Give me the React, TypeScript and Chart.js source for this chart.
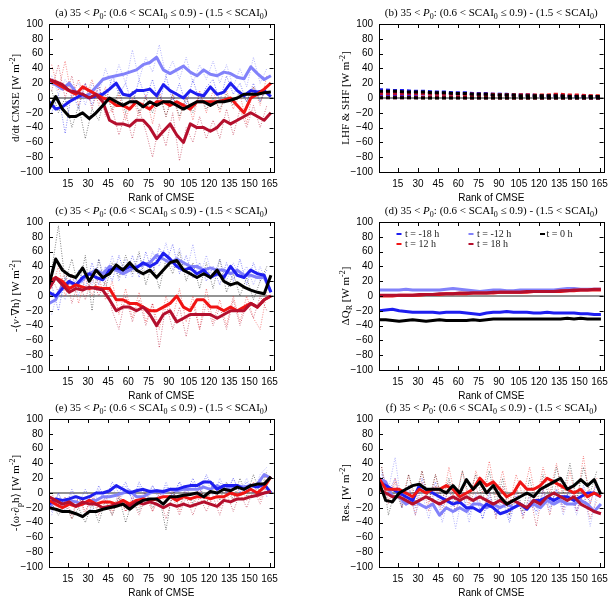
import React, { useEffect, useRef } from "react";
import { Chart, registerables } from "chart.js";
Chart.register(...registerables);

// ---------- data ----------
const RANKS = [1, 6, 11, 16, 21, 26, 31, 36, 41, 46, 51, 56, 61, 66, 71, 76, 81, 86, 91, 96, 101, 106, 111, 116, 121, 126, 131, 136, 141, 146, 151, 156, 161, 166];
const RAW_RANKS = [3, 8, 13, 18, 23, 28, 33, 38, 43, 48, 53, 58, 63, 68, 73, 78, 83, 88, 93, 98, 103, 108, 113, 118, 123, 128, 133, 138, 143, 148, 153, 158, 163];
const X_TICKS = [15, 30, 45, 60, 75, 90, 105, 120, 135, 150, 165];
const Y_TICKS = [-100, -80, -60, -40, -20, 0, 20, 40, 60, 80, 100];
const LEGEND_LABELS = ["t = -18 h", "t = -12 h", "t = 0 h", "t = 12 h", "t = 18 h"];

// (a) d/dt CMSE  (thick = running mean, raw = dotted)
const A_M18 = [-5, -15, -12, -5, 0, 5, 0, 3, 5, 12, 20, 5, 3, 10, 10, 12, 3, 18, 10, 5, 0, 10, 5, 3, 15, 5, 8, 20, 10, 3, 10, 8, 10, 2];
const A_M12 = [22, 18, 12, 20, 8, 2, 5, 15, 25, 28, 30, 32, 35, 38, 45, 48, 55, 38, 33, 38, 43, 35, 30, 38, 32, 30, 35, 33, 28, 26, 42, 33, 25, 30];
const A_0 = [-15, 2, -15, -25, -25, -20, -28, -20, -10, 0, -5, -10, -5, -5, -12, -5, -10, -5, -5, -10, -15, -10, -5, -5, -10, -5, -5, -3, 0, 5, 5, 5, 7, 8];
const A_12 = [25, 20, 15, 10, 5, 15, 10, 5, 0, -3, -10, -10, -15, -5, -10, -15, -5, -5, -10, -5, -10, -15, -5, -5, -5, -5, -3, 0, -10, -20, 0, 5, 12, 20];
const A_18 = [25, 22, 18, 10, 8, 5, 0, 5, -5, -30, -35, -35, -38, -30, -30, -40, -55, -45, -35, -50, -60, -35, -40, -40, -45, -40, -30, -35, -30, -25, -20, -25, -30, -20];
const A_M18_RAW = [-20, 5, -48, 10, -15, 20, -10, 15, -10, 30, 5, 20, -10, 25, 0, 25, -10, 30, -5, 20, -10, 25, -5, 15, 25, -5, 30, 5, 20, -5, 20, -5, 15];
const A_M12_RAW = [30, 5, 25, 10, 20, -10, 20, 5, 40, 15, 45, 20, 65, 25, 55, 35, 72, 30, 50, 25, 55, 20, 45, 25, 50, 20, 45, 15, 40, 15, 55, 20, 40];
const A_0_RAW = [10, -20, 0, -40, -10, -55, -15, -30, 5, -15, 10, -20, 10, -20, 0, -20, 5, -25, 5, -25, 0, -20, 5, -15, 0, -15, 5, -10, 10, -5, 15, -5, 15];
const A_12_RAW = [45, 10, 50, 0, 25, 0, 25, -10, 15, -20, 5, -30, 0, -25, 5, -35, 10, -25, 5, -30, 5, -30, 10, -20, 10, -20, 10, -15, 5, -35, 15, -10, 30];
const A_18_RAW = [10, 45, 0, 30, -10, 20, -15, 20, -25, -15, -50, -20, -55, -15, -45, -80, -35, -65, -20, -85, -40, -60, -25, -55, -30, -55, -15, -50, -15, -40, -10, -40, -10];

// (b) LHF & SHF
const B_LHF_M18 = [11, 11, 10, 10, 10, 9, 9, 9, 8, 8, 8, 7, 7, 7, 6, 6, 6, 5, 5, 5, 4, 4, 4, 4, 3, 3, 3, 3, 3, 2, 2, 2, 2, 2];
const B_LHF_M12 = [10, 10, 10, 9, 9, 9, 8, 8, 8, 7, 7, 7, 6, 6, 6, 5, 5, 5, 5, 4, 4, 4, 4, 3, 3, 3, 3, 3, 3, 2, 2, 2, 2, 2];
const B_LHF_0 = [9, 9, 9, 9, 8, 8, 8, 8, 7, 7, 7, 6, 6, 6, 5, 5, 5, 4, 4, 4, 4, 3, 3, 3, 3, 3, 3, 3, 2, 2, 2, 2, 2, 2];
const B_LHF_12 = [7, 7, 7, 7, 7, 7, 7, 6, 6, 6, 6, 6, 6, 5, 5, 5, 5, 5, 4, 4, 4, 4, 4, 4, 4, 4, 5, 5, 4, 4, 4, 3, 3, 3];
const B_LHF_18 = [6, 6, 6, 6, 6, 6, 6, 6, 5, 5, 5, 5, 5, 5, 5, 4, 4, 4, 4, 4, 4, 4, 4, 3, 3, 3, 4, 4, 3, 3, 3, 3, 2, 2];
const B_SHF_M18 = [2, 2, 2, 2, 2, 2, 1.5, 1.5, 1.5, 1.5, 1.5, 1, 1, 1, 1, 1, 1, 1, 1, 1, 1, 1, 1, 1, 1, 1, 1, 1, 1, 1, 0.5, 0.5, 0.5, 0.5];
const B_SHF_M12 = [1.5, 1.5, 1.5, 1.5, 1.5, 1, 1, 1, 1, 1, 1, 1, 1, 1, 1, 1, 1, 1, 1, 1, 1, 1, 1, 1, 1, 1, 1, 1, 1, 0.5, 0.5, 0.5, 0.5, 0.5];
const B_SHF_0 = [0.5, 0.5, 0.5, 0.5, 0.5, 0.5, 0, 0, 0, 0, 0, 0, 0, 0, 0, 0, 0, 0, 0, 0, 0, 0, 0, 0, 0, 0, 0, 0, 0, 0, 0, 0, 0, 0];
const B_SHF_12 = [1, 1, 1, 1, 1, 1, 1, 1, 1, 1, 1, 1, 1, 1, 1, 1, 1, 1, 0.5, 0.5, 0.5, 0.5, 0.5, 0.5, 0.5, 0.5, 0.5, 0.5, 0.5, 0.5, 0.5, 0.5, 0.5, 0.5];
const B_SHF_18 = [0.5, 0.5, 0.5, 0.5, 0.5, 0.5, 0.5, 0.5, 0.5, 0.5, 0.5, 0.5, 0.5, 0, 0, 0, 0, 0, 0, 0, 0, 0, 0, 0, 0, 0, 0, 0, 0, 0, 0, 0, 0, 0];

// (c) -<v.grad h>
const C_M18 = [5, 0, 10, 20, 15, 25, 30, 25, 22, 35, 38, 35, 40, 38, 45, 40, 45, 58, 50, 40, 35, 38, 30, 35, 25, 30, 25, 40, 28, 25, 35, 30, 28, 5];
const C_M12 = [-10, -5, 15, 18, 15, 22, 30, 35, 30, 40, 35, 30, 35, 40, 42, 45, 55, 50, 45, 50, 45, 40, 40, 35, 38, 35, 35, 30, 35, 28, 28, 25, 25, 5];
const C_0 = [15, 50, 35, 28, 25, 38, 20, 35, 25, 30, 42, 35, 45, 35, 30, 35, 25, 35, 45, 48, 35, 30, 25, 30, 25, 35, 20, 15, 18, 12, 8, 5, 3, 28];
const C_12 = [20, 25, 20, 10, 15, 12, 10, 12, 10, 10, -5, -5, -10, -10, -15, -20, -20, -15, -10, 0, -15, -20, -5, -5, -15, -15, -20, -15, -20, -15, -10, -15, -5, 0];
const C_18 = [10, 25, 15, 5, 10, 8, 12, 10, 8, -5, -20, -15, -15, -20, -15, -25, -40, -25, -20, -35, -30, -25, -25, -25, -25, -30, -25, -20, -20, -20, -10, -15, -5, 0];
const C_M18_RAW = [15, -20, 25, 5, 35, 10, 45, 15, 40, 20, 55, 25, 55, 25, 60, 30, 65, 45, 70, 30, 55, 25, 45, 20, 40, 15, 45, 20, 50, 15, 45, 20, 35];
const C_M12_RAW = [-25, 10, -5, 30, 0, 35, 15, 50, 20, 55, 20, 50, 25, 55, 30, 60, 40, 72, 35, 65, 30, 70, 25, 55, 25, 50, 20, 45, 25, 40, 15, 40, 15];
const C_0_RAW = [35, 95, 20, 50, 10, 55, -20, 50, 10, 45, 25, 55, 30, 60, 15, 45, 10, 50, 30, 60, 20, 45, 10, 45, 10, 50, 5, 30, 0, 25, -5, 20, 40];
const C_12_RAW = [10, 40, 0, 30, -10, 25, 0, 25, -5, 20, -25, 10, -30, 5, -35, -10, -45, 0, -30, 10, -35, 0, -45, 10, -35, -5, -40, 0, -35, 0, -30, -45, 5];
const C_18_RAW = [25, 5, 35, -10, 20, -5, 25, 0, 20, -20, -45, 0, -35, -5, -40, -10, -70, -10, -45, -15, -55, -10, -45, -10, -40, -15, -45, -5, -40, -10, -30, 0, -20];

// (d) Delta Q_R
const D_M18 = [-20, -19, -18, -20, -21, -22, -22, -22, -22, -23, -22, -22, -22, -23, -24, -25, -23, -22, -22, -21, -22, -22, -22, -23, -23, -22, -23, -23, -23, -23, -24, -24, -25, -25];
const D_M12 = [8, 8, 8, 8, 9, 8, 8, 8, 8, 8, 9, 10, 9, 8, 7, 6, 7, 8, 8, 7, 7, 8, 8, 8, 8, 8, 8, 9, 10, 10, 9, 9, 9, 9];
const D_0 = [-32, -32, -33, -34, -33, -32, -33, -34, -33, -32, -33, -33, -33, -33, -32, -33, -32, -31, -31, -31, -31, -31, -31, -31, -31, -31, -31, -31, -30, -31, -30, -31, -31, -31];
const D_12 = [0, 0, 0, 1, 1, 1, 1, 2, 2, 2, 3, 3, 3, 3, 4, 4, 4, 4, 5, 5, 5, 5, 5, 6, 6, 6, 6, 6, 7, 7, 8, 8, 8, 8];
const D_18 = [1, 1, 1, 1, 1, 1, 2, 2, 2, 3, 3, 3, 4, 4, 4, 4, 4, 5, 5, 5, 5, 5, 6, 6, 6, 6, 6, 7, 7, 8, 8, 8, 9, 9];

// (e) -<omega dp h>
const E_M18 = [-15, -8, -10, -8, -5, -8, -5, 0, 0, 3, 10, 5, 0, 3, 5, 2, 3, 2, 5, 5, 8, 10, 10, 15, 15, 5, 10, 10, 10, 5, 10, 8, 12, 0];
const E_M12 = [-20, -10, -15, -10, -12, -15, -10, -10, -5, -5, -3, 0, 3, -5, -5, 0, 3, 0, 5, 3, 5, 5, 5, 8, 5, 10, 5, 8, 10, 8, 10, 12, 25, 20];
const E_0 = [-20, -22, -25, -25, -28, -32, -25, -25, -22, -20, -18, -15, -22, -15, -10, -8, -8, -15, -5, -5, -3, -2, 0, -5, 2, 0, 5, 3, 8, 5, 10, 12, 12, 22];
const E_12 = [-10, -15, -20, -15, -18, -15, -10, -15, -12, -12, -15, -10, -15, -10, -8, -10, -8, -5, -5, -10, -5, -8, -5, -5, -8, -5, -5, 0, -3, 0, 5, 0, 8, 22];
const E_18 = [-5, -10, -15, -12, -18, -12, -15, -15, -20, -18, -15, -15, -18, -12, -15, -12, -15, -20, -15, -18, -15, -18, -15, -12, -15, -18, -10, -12, -8, -8, -5, -3, 0, 2];
const E_M18_RAW = [-25, 0, -20, 5, -15, 5, -15, 10, -10, 15, 0, 15, -10, 15, -5, 10, -5, 10, -5, 15, 0, 20, 0, 25, 5, 15, 0, 20, 0, 15, 0, 20, -5];
const E_M12_RAW = [-30, 0, -25, 0, -20, -5, -25, 5, -15, 10, -15, 10, -10, 10, -15, 10, -10, 15, -5, 15, -5, 15, -5, 20, -5, 20, 0, 20, 0, 20, 0, 25, 35];
const E_0_RAW = [-15, -30, -15, -35, -20, -40, -15, -40, -10, -30, -5, -40, -10, -25, 0, -20, -5, -50, 5, -20, 10, -15, 10, -15, 15, -10, 15, -10, 20, -5, 25, 0, 30];
const E_12_RAW = [-5, -25, -10, -35, -5, -30, 0, -25, -5, -25, 0, -25, -5, -20, 5, -25, 0, -15, 5, -25, 5, -20, 5, -15, 10, -20, 5, -10, 10, -10, 15, -10, 25];
const E_18_RAW = [0, -20, -5, -30, -5, -25, -5, -30, -10, -30, -5, -25, -10, -30, -5, -25, -5, -35, -5, -30, -5, -30, -5, -25, -5, -30, 0, -25, 0, -20, 5, -15, 10];

// (f) Res.
const F_M18 = [15, 10, 5, 0, -5, -10, 10, 5, 0, -5, -10, -15, -12, -20, -20, -25, -15, -20, -28, -25, -20, -15, -22, -10, -10, -5, -10, -5, -5, -10, -5, 0, 0, -5];
const F_M12 = [20, 15, -5, -5, -15, -10, -15, -20, -15, -30, -20, -25, -20, -25, -15, -15, -20, -15, -20, -15, -20, -15, -20, -15, -20, -10, -15, -10, -15, -15, -10, -15, -25, -15];
const F_0 = [15, -10, -12, 0, 5, 10, 12, 5, 5, 5, 0, 10, 0, 18, 5, 15, 0, 10, -5, -15, -10, -5, 0, -5, 5, 10, 15, 20, 5, 10, 18, 10, 18, -2];
const F_12 = [20, 5, 5, 5, 0, -5, 5, 0, 5, 5, 10, 5, -5, 0, 5, 20, 10, 15, 5, -5, 0, 15, 5, 5, 10, 20, 15, 10, 5, 0, 5, -5, 0, -5];
const F_18 = [5, 0, -5, -5, -10, -15, -10, -5, -10, -15, -10, -5, -10, -5, -10, -5, -10, -15, -10, -15, -10, -15, -20, -10, -15, -5, 0, -5, -10, -5, -15, -20, -25, -28];
const F_M18_RAW = [25, 0, 20, -15, 10, -20, 20, -10, 15, -20, 5, -25, 0, -30, -5, -35, 0, -30, -10, -40, -5, -30, -10, -25, 5, -20, 5, -20, 10, -25, 10, -15, 15];
const F_M12_RAW = [30, 5, 48, -20, 5, -30, 0, -35, 5, -40, -5, -48, 0, -40, 0, -35, -5, -30, -5, -35, 0, -30, -5, -30, 0, -25, 5, -30, 0, -30, 5, -45, 0];
const F_0_RAW = [35, -30, 5, -20, 25, -5, 30, -10, 25, -10, 20, -15, 30, -5, 25, -10, 30, -15, 20, -30, 10, -25, 20, -20, 25, -10, 35, 0, 40, -10, 35, 0, 30];
const F_12_RAW = [35, -10, 20, -10, 25, -15, 30, -15, 25, -15, 35, -10, 30, -15, 30, 0, 43, -5, 30, -15, 25, -5, 35, -10, 35, 0, 40, -10, 30, -15, 50, -15, 20];
const F_18_RAW = [20, -15, 15, -20, 10, -30, 15, -25, 10, -30, 15, -25, 5, -20, 10, -25, 5, -35, 10, -30, 5, -35, 0, -45, 5, -30, 15, -25, 10, -25, 0, -35, -10];

// ---------- styles ----------
const COL_M18 = "#1e1ef0";
const COL_M12 = "#8282fa";
const COL_0 = "#000000";
const COL_12 = "#f01414";
const COL_18 = "#b40f2d";
const COLORS = [COL_M18, COL_M12, COL_0, COL_12, COL_18];
const RAW_COLORS = ["rgba(30,30,240,0.55)", "rgba(130,130,250,0.6)", "rgba(0,0,0,0.5)", "rgba(240,20,20,0.5)", "rgba(180,15,45,0.55)"];

const W = 284;
const H = 204;
const PL = 49, PR = 279, PT = 24, PB = 172;
const SERIF = "'Liberation Serif', 'DejaVu Serif', serif";
const SANS = "'Liberation Sans', Arial, sans-serif";

type Seg = { t: string; it?: boolean; sub?: boolean; sup?: boolean };

function drawRich(ctx: CanvasRenderingContext2D, segs: Seg[], x: number, y: number, size: number, family: string) {
  const fontFor = (s: Seg) => `${s.it ? "italic " : ""}${s.sub || s.sup ? Math.round(size * 0.7) : size}px ${family}`;
  let total = 0;
  const widths = segs.map((s) => {
    ctx.font = fontFor(s);
    const w = ctx.measureText(s.t).width;
    total += w;
    return w;
  });
  let cx = x - total / 2;
  ctx.textBaseline = "alphabetic";
  ctx.textAlign = "left";
  segs.forEach((s, i) => {
    ctx.font = fontFor(s);
    const dy = s.sub ? size * 0.25 : s.sup ? -size * 0.38 : 0;
    ctx.fillText(s.t, cx, y + dy);
    cx += widths[i];
  });
}

const UNIT: Seg[] = [{ t: " [W m" }, { t: "-2", sup: true }, { t: "]" }];
function titleSegs(letter: string): Seg[] {
  return [
    { t: `(${letter}) 35 < ` },
    { t: "P", it: true },
    { t: "0", sub: true },
    { t: ": (0.6 < SCAI" },
    { t: "0", sub: true },
    { t: " \u2264 0.9) - (1.5 < SCAI" },
    { t: "0", sub: true },
    { t: ")" },
  ];
}

type Series = { data: number[]; color: string; dash?: number[]; raw?: boolean };
type PanelCfg = { letter: string; ylabel: Seg[]; series: Series[]; left: number; top: number; legend?: boolean };

// thick curves first (drawn on top), raw dotted afterwards (drawn underneath)
const five = (m18: number[], m12: number[], z: number[], p12: number[], p18: number[], raw?: number[][]): Series[] => {
  const thick: Series[] = [
    { data: z, color: COL_0 },
    { data: p18, color: COL_18 },
    { data: p12, color: COL_12 },
    { data: m18, color: COL_M18 },
    { data: m12, color: COL_M12 },
  ];
  const dotted: Series[] = raw
    ? [
        { data: raw[2], color: RAW_COLORS[2], raw: true },
        { data: raw[4], color: RAW_COLORS[4], raw: true },
        { data: raw[3], color: RAW_COLORS[3], raw: true },
        { data: raw[0], color: RAW_COLORS[0], raw: true },
        { data: raw[1], color: RAW_COLORS[1], raw: true },
      ]
    : [];
  return [...thick, ...dotted];
};

const DASH = [4, 3];
const PANELS: PanelCfg[] = [
  {
    letter: "a", left: 0, top: 0, ylabel: [{ t: "d/dt CMSE" }, ...UNIT],
    series: five(A_M18, A_M12, A_0, A_12, A_18, [A_M18_RAW, A_M12_RAW, A_0_RAW, A_12_RAW, A_18_RAW]),
  },
  {
    letter: "b", left: 330, top: 0, ylabel: [{ t: "LHF & SHF" }, ...UNIT],
    series: [
      { data: B_LHF_0, color: COL_0, dash: DASH },
      { data: B_SHF_0, color: COL_0, dash: DASH },
      { data: B_LHF_18, color: COL_18, dash: DASH },
      { data: B_SHF_18, color: COL_18, dash: DASH },
      { data: B_LHF_12, color: COL_12, dash: DASH },
      { data: B_SHF_12, color: COL_12, dash: DASH },
      { data: B_LHF_M18, color: COL_M18, dash: DASH },
      { data: B_SHF_M18, color: COL_M18, dash: DASH },
      { data: B_LHF_M12, color: COL_M12, dash: DASH },
      { data: B_SHF_M12, color: COL_M12, dash: DASH },
    ],
  },
  {
    letter: "c", left: 0, top: 198, ylabel: [{ t: "-\u27E8" }, { t: "v", it: true }, { t: "\u00B7\u2207h\u27E9" }, ...UNIT],
    series: five(C_M18, C_M12, C_0, C_12, C_18, [C_M18_RAW, C_M12_RAW, C_0_RAW, C_12_RAW, C_18_RAW]),
  },
  { letter: "d", left: 330, top: 198, legend: true, ylabel: [{ t: "\u0394Q" }, { t: "R", sub: true }, ...UNIT], series: five(D_M18, D_M12, D_0, D_12, D_18) },
  {
    letter: "e", left: 0, top: 395, ylabel: [{ t: "-\u27E8\u03C9\u00B7\u2202" }, { t: "p", sub: true }, { t: "h\u27E9" }, ...UNIT],
    series: five(E_M18, E_M12, E_0, E_12, E_18, [E_M18_RAW, E_M12_RAW, E_0_RAW, E_12_RAW, E_18_RAW]),
  },
  {
    letter: "f", left: 330, top: 395, ylabel: [{ t: "Res." }, ...UNIT],
    series: five(F_M18, F_M12, F_0, F_12, F_18, [F_M18_RAW, F_M12_RAW, F_0_RAW, F_12_RAW, F_18_RAW]),
  },
];

function makePlugin(cfg: PanelCfg) {
  return {
    id: "gnuframe",
    beforeDatasetsDraw(chart: any) {
      const ctx: CanvasRenderingContext2D = chart.ctx;
      const { left, right } = chart.chartArea;
      const y0 = chart.scales.y.getPixelForValue(0);
      ctx.save();
      ctx.strokeStyle = "#707070";
      ctx.lineWidth = 1.5;
      ctx.beginPath();
      ctx.moveTo(left, y0);
      ctx.lineTo(right, y0);
      ctx.stroke();
      ctx.restore();
    },
    afterDraw(chart: any) {
      const ctx: CanvasRenderingContext2D = chart.ctx;
      const { left, right, top, bottom } = chart.chartArea;
      const xs = chart.scales.x;
      const ys = chart.scales.y;
      ctx.save();
      ctx.strokeStyle = "#000";
      ctx.lineWidth = 1;
      ctx.strokeRect(Math.round(left) + 0.5, Math.round(top) + 0.5, Math.round(right - left), Math.round(bottom - top));
      ctx.beginPath();
      const TL = 4;
      X_TICKS.forEach((v) => {
        const px = Math.round(xs.getPixelForValue(v)) + 0.5;
        ctx.moveTo(px, bottom);
        ctx.lineTo(px, bottom - TL);
        ctx.moveTo(px, top);
        ctx.lineTo(px, top + TL);
      });
      Y_TICKS.forEach((v) => {
        const py = Math.round(ys.getPixelForValue(v)) + 0.5;
        ctx.moveTo(left, py);
        ctx.lineTo(left + TL, py);
        ctx.moveTo(right, py);
        ctx.lineTo(right - TL, py);
      });
      ctx.stroke();

      ctx.fillStyle = "#000";
      drawRich(ctx, titleSegs(cfg.letter), (left + right) / 2, top - 8, 11, SERIF);
      ctx.font = `10px ${SANS}`;
      ctx.textAlign = "center";
      ctx.textBaseline = "middle";
      ctx.fillText("Rank of CMSE", (left + right) / 2, bottom + 26);
      ctx.save();
      ctx.translate(15, (top + bottom) / 2);
      ctx.rotate(-Math.PI / 2);
      drawRich(ctx, cfg.ylabel, 0, 4, 11, SERIF);
      ctx.restore();
      if (cfg.legend) {
        const cols = [
          [66.5, 75],
          [138.5, 147],
          [210, 216.5],
        ];
        [0, 1, 2, 3, 4].forEach((k, i) => {
          const row = Math.floor(i / 3);
          const col = i % 3;
          const yy = top + 12 + row * 10;
          ctx.strokeStyle = COLORS[k];
          ctx.lineWidth = 2;
          ctx.beginPath();
          ctx.moveTo(cols[col][0], yy);
          ctx.lineTo(cols[col][0] + 5, yy);
          ctx.stroke();
          ctx.fillStyle = "#222";
          ctx.font = `10px ${SERIF}`;
          ctx.textAlign = "left";
          ctx.textBaseline = "middle";
          ctx.fillText(LEGEND_LABELS[k], cols[col][1], yy + 0.5);
        });
      }
      ctx.restore();
    },
  };
}

function Panel({ cfg }: { cfg: PanelCfg }) {
  const ref = useRef<HTMLCanvasElement>(null);
  useEffect(() => {
    const chart = new Chart(ref.current as HTMLCanvasElement, {
      type: "line",
      data: {
        datasets: cfg.series.map((s) => ({
          data: (s.raw ? RAW_RANKS : RANKS).map((r, i) => ({ x: r, y: s.data[i] })),
          borderColor: s.color,
          backgroundColor: s.color,
          borderWidth: s.raw ? 1 : 3,
          borderDash: s.raw ? [1, 1.5] : s.dash || [],
          borderJoinStyle: "round" as const,
          pointRadius: 0,
          tension: 0,
          fill: false,
        })),
      },
      options: {
        animation: false,
        responsive: false,
        devicePixelRatio: 1,
        events: [],
        layout: { padding: { top: PT, left: 0, right: W - PR, bottom: 0 } },
        plugins: { legend: { display: false }, title: { display: false }, tooltip: { enabled: false } },
        scales: {
          x: {
            type: "linear",
            min: 1,
            max: 168,
            grid: { display: false, drawTicks: false },
            border: { display: false },
            ticks: { color: "#000", font: { family: SANS, size: 10 }, padding: 6, maxRotation: 0, autoSkip: false },
            afterBuildTicks: (s: any) => {
              s.ticks = X_TICKS.map((v) => ({ value: v }));
            },
            afterFit: (s: any) => {
              s.height = H - PB;
            },
          },
          y: {
            type: "linear",
            min: -100,
            max: 100,
            grid: { display: false, drawTicks: false },
            border: { display: false },
            ticks: {
              color: "#000",
              font: { family: SANS, size: 10 },
              padding: 6,
              autoSkip: false,
              callback: (v: any) => String(v).replace("-", "\u2212"),
            },
            afterBuildTicks: (s: any) => {
              s.ticks = Y_TICKS.map((v) => ({ value: v }));
            },
            afterFit: (s: any) => {
              s.width = PL;
            },
          },
        },
      },
      plugins: [makePlugin(cfg)],
    } as any);
    return () => chart.destroy();
  }, []);
  return (
    <canvas
      ref={ref}
      width={W}
      height={H}
      style={{ position: "absolute", left: cfg.left, top: cfg.top, width: W, height: H }}
    />
  );
}

export default function App() {
  return (
    <div style={{ position: "absolute", left: 0, top: 0, width: 614, height: 599, overflow: "hidden", background: "#fff" }}>
      {PANELS.map((p) => (
        <Panel key={p.letter} cfg={p} />
      ))}
    </div>
  );
}
